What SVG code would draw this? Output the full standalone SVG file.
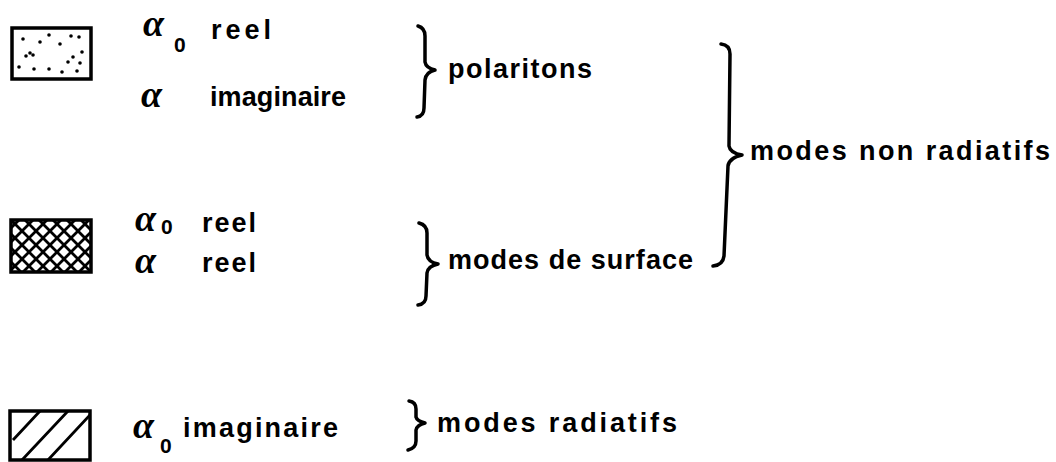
<svg xmlns="http://www.w3.org/2000/svg" width="1056" height="462" viewBox="0 0 1056 462">
<style>
.lbl{font-family:"Liberation Sans","DejaVu Sans",sans-serif;font-weight:bold;font-size:27px;fill:#000}
.al{font-family:"Liberation Serif","DejaVu Serif",serif;font-style:italic;font-weight:bold;font-size:38px;fill:#000}
.sub{font-family:"Liberation Sans","DejaVu Sans",sans-serif;font-weight:bold;font-size:21px;fill:#000}
.box{fill:#fff;stroke:#000;stroke-width:3.5}
.br{fill:none;stroke:#000;stroke-width:3.5;stroke-linecap:round;stroke-linejoin:round}
.hl{stroke:#000;stroke-width:2.8;fill:none}
</style>
<defs>
<clipPath id="c2"><rect x="11" y="220" width="80" height="52"/></clipPath>
<clipPath id="c3"><rect x="10" y="411" width="80" height="49"/></clipPath>
</defs>
<rect width="1056" height="462" fill="#fff"/>

<g id="legend-polaritons">
<rect class="box" x="12" y="28" width="79" height="51"/>
<g fill="#000">
<circle cx="23" cy="39" r="1.8"/><circle cx="40" cy="42" r="1.8"/><circle cx="49" cy="35" r="1.8"/><circle cx="60" cy="44" r="1.8"/><circle cx="71" cy="36" r="1.8"/><circle cx="79" cy="37" r="1.8"/><circle cx="30" cy="53" r="1.8"/><circle cx="33" cy="55" r="1.8"/><circle cx="26" cy="56" r="1.8"/><circle cx="82" cy="52" r="1.8"/><circle cx="73" cy="57" r="1.8"/><circle cx="68" cy="62" r="1.8"/><circle cx="19" cy="67" r="1.8"/><circle cx="34" cy="69" r="1.8"/><circle cx="49" cy="69" r="1.8"/><circle cx="62" cy="72" r="1.8"/><circle cx="77" cy="71" r="1.8"/><circle cx="80" cy="63" r="1.8"/>
</g>
<text class="al" x="143" y="36">α</text><text class="sub" x="174" y="52">0</text>
<text class="lbl" x="211" y="39" textLength="60" lengthAdjust="spacing">reel</text>
<text class="al" x="141" y="107">α</text>
<text class="lbl" x="210" y="106" textLength="136" lengthAdjust="spacing">imaginaire</text>
</g>

<g id="legend-surface">
<g clip-path="url(#c2)" class="hl">
<path d="M-45 220 l60 60 M-31 220 l60 60 M-17 220 l60 60 M-3 220 l60 60 M11 220 l60 60 M25 220 l60 60 M39 220 l60 60 M53 220 l60 60 M67 220 l60 60 M81 220 l60 60"/>
<path d="M145 220 l-60 60 M131 220 l-60 60 M117 220 l-60 60 M103 220 l-60 60 M89 220 l-60 60 M75 220 l-60 60 M61 220 l-60 60 M47 220 l-60 60 M33 220 l-60 60 M19 220 l-60 60"/>
</g>
<rect class="box" x="11" y="220" width="80" height="52" style="fill:none"/>
<text class="al" x="135" y="231">α</text><text class="sub" x="161" y="234">0</text>
<text class="lbl" x="202" y="232" textLength="54" lengthAdjust="spacing">reel</text>
<text class="al" x="135" y="273">α</text>
<text class="lbl" x="202" y="272" textLength="54" lengthAdjust="spacing">reel</text>
</g>

<g id="legend-radiatifs">
<rect class="box" x="10" y="411" width="80" height="49"/>
<g clip-path="url(#c3)" class="hl">
<path d="M13 440 L40 411 M22 460 L68 411 M48 460 L90 415"/>
</g>
<text class="al" x="133" y="438">α</text><text class="sub" x="160" y="453">0</text>
<text class="lbl" x="183" y="437" textLength="155" lengthAdjust="spacing">imaginaire</text>
</g>

<g id="connectors">
<path class="br" d="M418 26 Q425 28 425 36 L425 62 Q426 68 435 70 Q426 72 425 80 L424 108 Q424 116 417 117"/>
<path class="br" d="M419 223 Q427 225 427 233 L427 255 Q428 262 438 264 Q428 266 427 273 L426 296 Q426 304 418 305"/>
<path class="br" d="M409 401 Q416 402 416 409 L416 417 Q417 421 425 423 Q417 425 416 430 L416 441 Q416 448 408 450"/>
<path class="br" d="M721 44 Q730 45 730 54 L729 146 Q730 153 742 155 Q729 158 728 166 L724 256 Q723 265 713 266"/>
</g>

<g id="group-labels">
<text class="lbl" x="448" y="78" textLength="144" lengthAdjust="spacing">polaritons</text>
<text class="lbl" x="448" y="269" textLength="245" lengthAdjust="spacing">modes de surface</text>
<text class="lbl" x="750" y="160" textLength="300" lengthAdjust="spacing">modes non radiatifs</text>
<text class="lbl" x="437" y="432" textLength="240" lengthAdjust="spacing">modes radiatifs</text>
</g>
</svg>
